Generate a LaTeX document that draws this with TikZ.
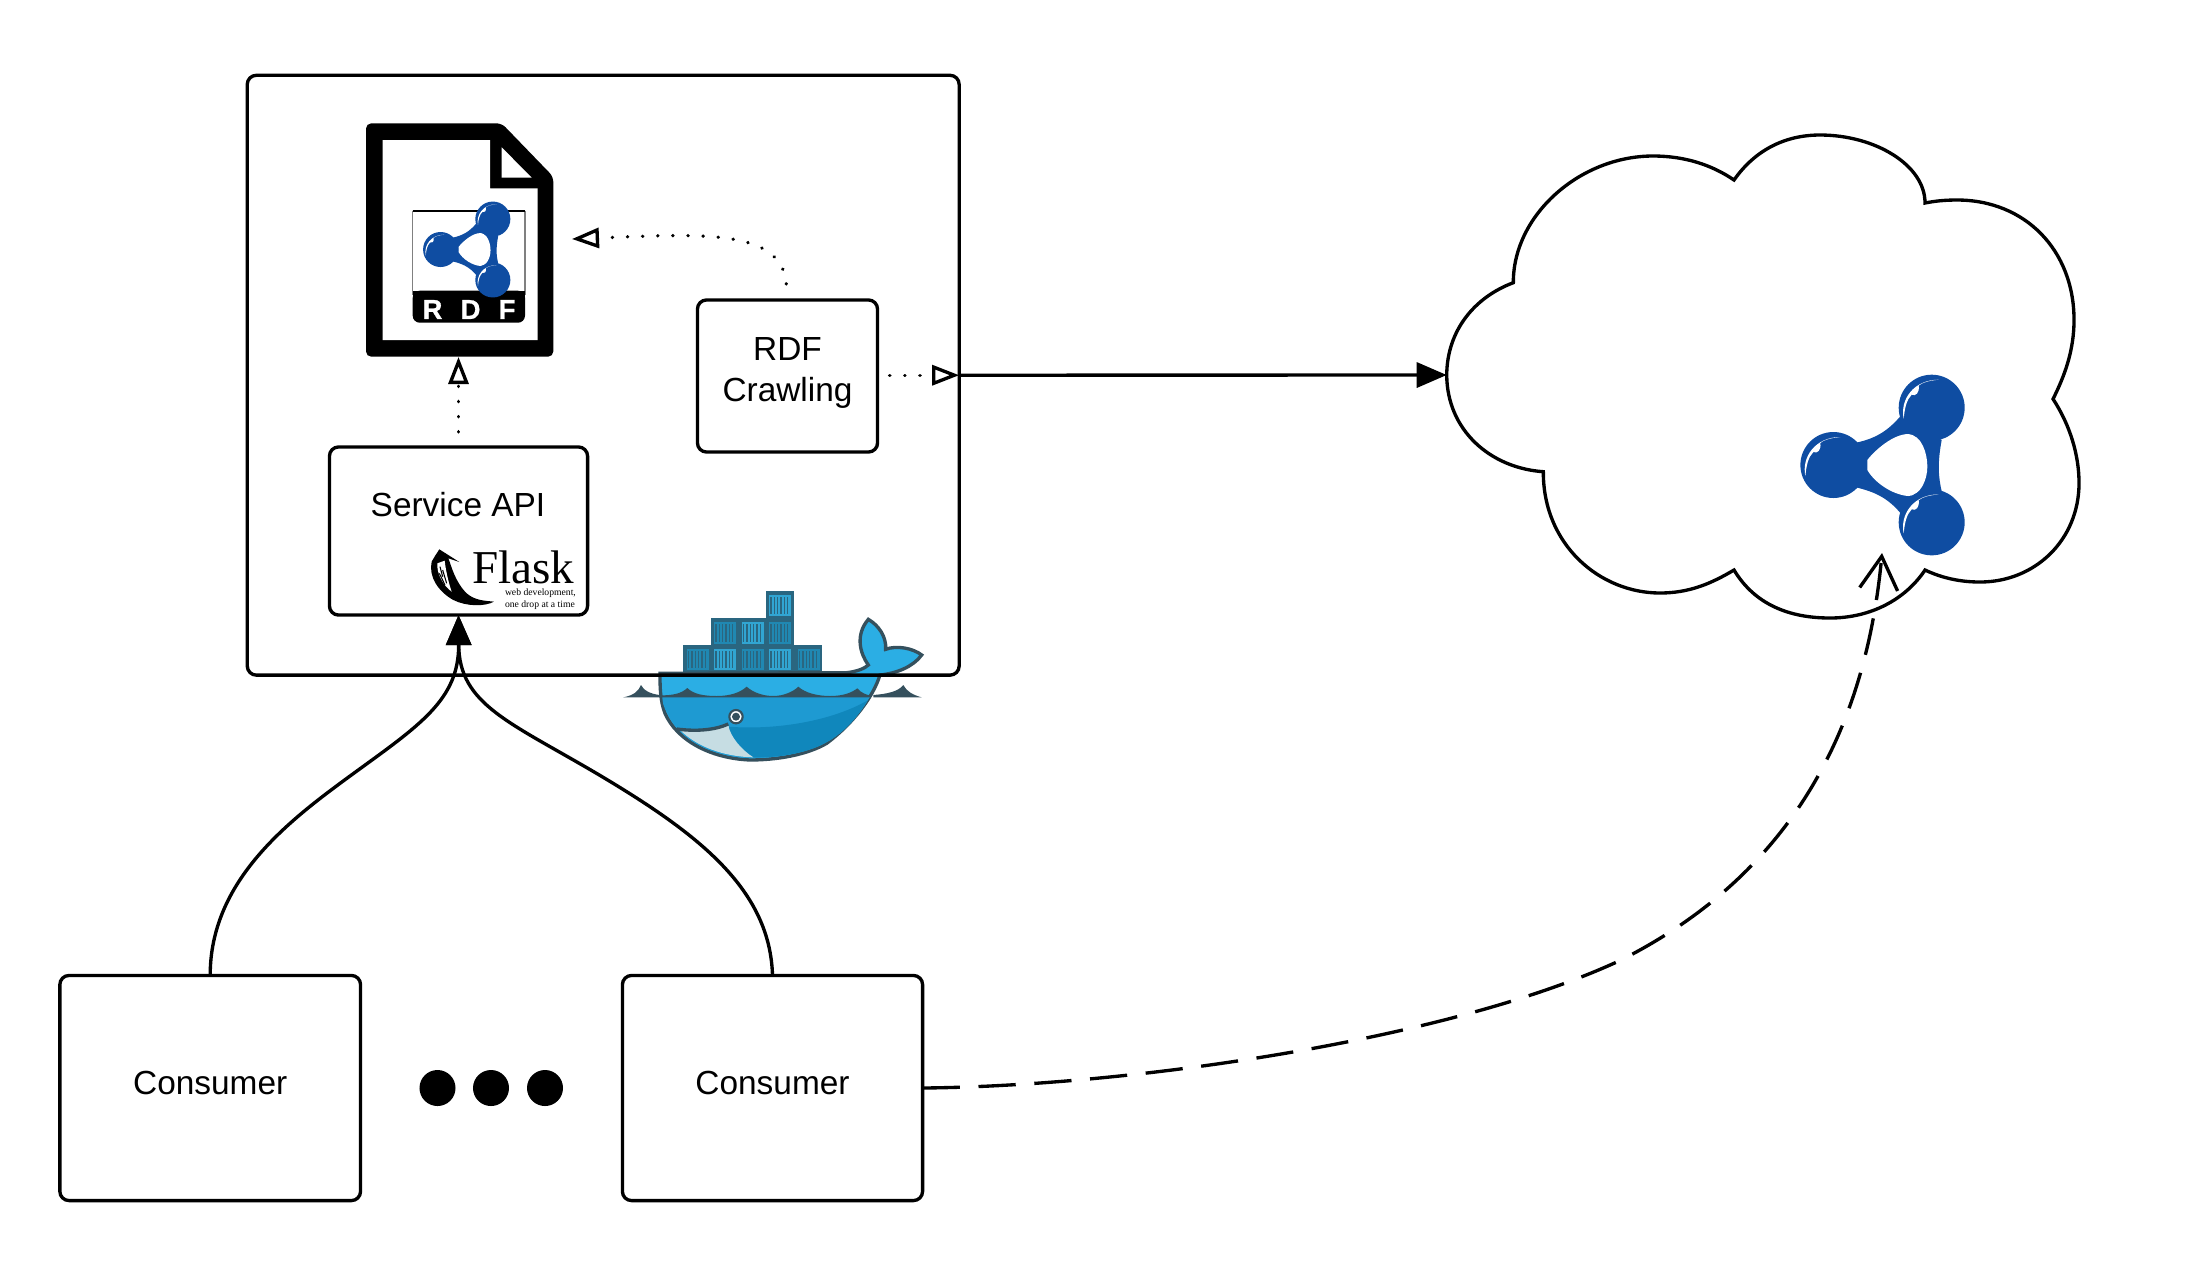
\documentclass[tikz,border=0pt]{standalone}
\usepackage{fontspec}
\setmainfont{Liberation Sans}
\newfontfamily\flaskfont{Liberation Serif}
\usetikzlibrary{arrows.meta}

\definecolor{rdfblue}{HTML}{0F4DA2}
\definecolor{dockdark}{HTML}{35505D}
\definecolor{docktop}{HTML}{2BAEE4}
\definecolor{dockmid}{HTML}{1E9AD2}
\definecolor{docklow}{HTML}{1087BC}
\definecolor{dockbelly}{HTML}{C6DDE3}
\definecolor{crateline}{HTML}{2A6680}
\definecolor{crateon}{HTML}{31A5D2}
\definecolor{crateoff}{HTML}{2088B2}

% one ball of the molecule, with its highlight
\newcommand{\molball}[2]{
\fill [rdfblue] (#1,#2) circle (99);
\fill [white, shift={(#1,#2)}] (-84,33) .. controls (-96,-24) and (-54,-84) .. (21,-84)
  .. controls (-9,-81) and (-30,-75) .. (-39,-66) .. controls (-36,-45) and (-48,-33) .. (-60,-39)
  .. controls (-75,-24) and (-81,0) .. (-84,33) -- cycle;
}

% the molecule, drawn around its centre
\newcommand{\rdfmol}[3]{
\begin{scope}[shift={(#1,#2)}, scale=#3, shift={(-330,-315)}]
\fill [rdfblue] (228,248) .. controls (290,235) and (325,210) .. (360,170) -- (485,240)
  .. controls (472,310) and (475,350) .. (485,394) -- (362,460)
  .. controls (320,410) and (280,395) .. (228,382) -- cycle;
\fill [white] (262,300) .. controls (285,270) and (340,222) .. (385,222)
  .. controls (425,225) and (442,280) .. (442,320)
  .. controls (442,360) and (420,408) .. (385,408)
  .. controls (340,405) and (285,370) .. (262,330) -- cycle;
\molball{160}{315}
\molball{455}{143}
\molball{455}{487}
\end{scope}
}

% one container on the whale
\newcommand{\crate}[3]{
\fill [crateline] (#1,#2) rectangle ++(84,84);
\fill [#3] (#1+10,#2+12) rectangle ++(66,64);
\foreach \sx in {16,26,...,70} {
  \draw [crateline, line width=0.35pt] (#1+\sx,#2+18) -- ++(0,52);
}
}

\begin{document}
\begin{tikzpicture}[x=0.01cm, y=-0.01cm, line width=0.95pt]
\tikzset{
  inner sep=0pt, outer sep=0pt,
  box/.style={draw, rounded corners=2.6pt},
  boxtext/.style={font=\fontsize{9.5}{11.4}\selectfont, align=center},
  dotline/.style={dash pattern=on 0.1pt off 4.2pt, line cap=round},
  opentip/.style={-{Triangle[open, length=0.27cm, width=0.2cm]}},
  solidtip/.style={-{Triangle[length=0.3cm, width=0.25cm]}},
  barbtip/.style={-{Straight Barb[length=0.33cm, width=0.38cm]}},
}
\useasboundingbox (0,0) rectangle (2192,1275);

%whale
\begin{scope}[shift={(620,580)}, scale=0.3333]
\crate{190}{195}{crateoff}
\crate{272}{195}{crateon}
\crate{355}{195}{crateoff}
\crate{437}{195}{crateon}
\crate{523}{195}{crateoff}
\crate{272}{115}{crateoff}
\crate{355}{115}{crateon}
\crate{437}{115}{crateoff}
\crate{437}{33}{crateon}

\fill [dockdark] (10,352) .. controls (40,346) and (55,335) .. (63,315)
  .. controls (70,330) and (90,342) .. (120,345) -- (120,352) -- cycle;
\fill [dockdark] (760,345) .. controls (800,342) and (835,335) .. (850,315)
  .. controls (860,335) and (880,345) .. (905,352) -- (760,352) -- cycle;

\draw [dockdark, fill=docktop] (120,280) -- (680,278) .. controls (710,275) and (735,265) .. (745,255)
  .. controls (720,220) and (705,165) .. (745,118) .. controls (775,135) and (800,170) .. (797,208)
  .. controls (830,195) and (880,205) .. (905,225) .. controls (880,260) and (830,280) .. (780,285)
  .. controls (760,350) and (700,430) .. (620,490) .. controls (560,525) and (470,540) .. (390,540)
  .. controls (270,535) and (170,480) .. (135,400) .. controls (120,360) and (120,320) .. (120,280) -- cycle;

\fill [dockmid] (127,350) -- (750,350) .. controls (710,420) and (660,465) .. (617,488)
  .. controls (560,520) and (470,534) .. (390,534) .. controls (270,530) and (175,475) .. (141,398)
  .. controls (130,380) and (127,365) .. (127,350) -- cycle;
\fill [docklow] (742,362) .. controls (705,425) and (660,465) .. (617,488)
  .. controls (560,520) and (470,534) .. (400,532) .. controls (360,505) and (335,470) .. (325,440)
  .. controls (450,450) and (620,430) .. (742,362) -- cycle;
\fill [dockbelly] (180,450) .. controls (230,455) and (290,450) .. (325,435)
  .. controls (330,470) and (365,510) .. (400,532) .. controls (310,530) and (230,500) .. (180,450) -- cycle;
\draw [dockdark] (170,447) .. controls (230,455) and (285,450) .. (325,432);

\fill [dockdark] (125,352) -- (125,346) .. controls (160,346) and (185,340) .. (202,324)
  .. controls (220,342) and (250,348) .. (290,348) .. controls (330,348) and (360,338) .. (380,320)
  .. controls (400,338) and (430,348) .. (460,348) .. controls (490,348) and (520,335) .. (535,320)
  .. controls (555,338) and (590,348) .. (630,348) .. controls (670,348) and (695,338) .. (712,325)
  .. controls (725,340) and (740,345) .. (755,347) -- (750,352) -- cycle;

\draw [dockdark, fill=white, line width=0.6pt] (348,410) circle (20);
\fill [dockdark] (348,410) circle (12);
\end{scope}

%main boxes
\node [box, minimum width=7.115cm, minimum height=5.995cm] (outer) at (603.2,375.2) {};
\node [box, minimum width=2.58cm, minimum height=1.68cm] (api) at (458.5,531) {};
\node [box, minimum width=1.8cm, minimum height=1.52cm] (crawl) at (787.5,376) {};
\node [box, boxtext, text depth=3.1pt, minimum width=3.005cm, minimum height=2.25cm] (consumera) at (210.2,1088) {Consumer};
\node [box, boxtext, text depth=3.1pt, minimum width=3cm, minimum height=2.25cm] (consumerb) at (772.5,1088) {Consumer};

\node [boxtext] (apitext) at (458,505) {Service API};
\node [boxtext] (crawltext) at (787.5,373) {RDF\\Crawling};

\node [fill, circle, minimum size=0.36cm] (dota) at (437.5,1088) {};
\node [fill, circle, minimum size=0.36cm] (dotb) at (491,1088) {};
\node [fill, circle, minimum size=0.36cm] (dotc) at (545,1088) {};

%rdf file
\fill [rounded corners=1.5pt] (366,123.3) -- (501.7,123.3) -- (553.3,176.7) -- (553.3,356.7) -- (366,356.7) -- cycle;
\fill [white] (382.7,140) -- (490,140) -- (490,188.3) -- (537.7,188.3) -- (537.7,340) -- (382.7,340) -- cycle;
\fill [white] (501.7,147.3) -- (531.7,177.7) -- (501.7,177.7) -- cycle;
\draw [gray, line width=0.3pt] (412.7,210.7) -- (412.7,295) (525,210.7) -- (525,295);
\draw [line width=0.5pt] (412.7,211) -- (525,211);
\fill [rounded corners=2pt] (412.7,290.7) -- (525,290.7) -- (525,322.7) -- (412.7,322.7) -- cycle;
\fill (412.7,290.7) rectangle (525,305);
\rdfmol{470.7}{249.5}{0.177}
\node [white, font=\fontsize{7.8}{8}\selectfont\bfseries\addfontfeature{FakeBold=1}] (rdftext) at (469,309.5) {R \hspace{0.3mm} D \hspace{0.3mm} F};

%flask logo
\begin{scope}[shift={(320,430)}, scale=0.3333]
\fill (345,378) -- (358,358) -- (418,396) -- (385,385) .. controls (395,410) and (405,455) .. (440,490)
  .. controls (465,512) and (495,512) .. (522,515) .. controls (495,530) and (440,530) .. (400,510)
  .. controls (355,485) and (325,440) .. (335,395) -- cycle;
\fill [white] (352,400) .. controls (350,430) and (368,465) .. (395,485)
  .. controls (385,455) and (378,425) .. (374,392) -- cycle;
\draw [line width=0.3pt] (360,410) -- (368,440) (368,420) -- (380,460) (358,430) -- (375,465);
\end{scope}
\node [anchor=base west, font=\flaskfont\fontsize{13.4}{14}\selectfont] (flasktext) at (472,583) {Flask};
\node [anchor=west, align=left, font=\flaskfont\fontsize{2.75}{2.45}\selectfont] (flasksub) at (505,599.5) {web development,\\one drop at a time};

%cloud
\draw (1446.7,375) .. controls (1447,330) and (1475,297) .. (1513.3,282.7)
  .. controls (1513,215) and (1580,156) .. (1653,156) .. controls (1685,156) and (1712,165) .. (1734,180)
  .. controls (1755,150) and (1785,135) .. (1820,135) .. controls (1875,135) and (1925,165) .. (1925,203)
  .. controls (1935,201) and (1945,200) .. (1957,200) .. controls (2025,200) and (2074,250) .. (2074,320)
  .. controls (2074,350) and (2065,375) .. (2053,399) .. controls (2070,425) and (2079,455) .. (2079,483)
  .. controls (2079,540) and (2035,582) .. (1980,582) .. controls (1960,582) and (1942,578) .. (1925,570)
  .. controls (1905,600) and (1870,618) .. (1830,618) .. controls (1790,618) and (1755,605) .. (1734,570)
  .. controls (1712,583) and (1690,593) .. (1660,593) .. controls (1600,593) and (1543,545) .. (1543.3,471.7)
  .. controls (1490,468) and (1447,430) .. (1446.7,375) -- cycle;
\rdfmol{1890}{465}{0.3333}

\coordinate (filebottom) at (458.5,357);
\coordinate (fileright) at (572,239);
\coordinate (cloudleft) at (1446.7,375);
\coordinate (cloudin) at (1882,553);

%connectors
\draw [dotline, opentip, shorten <=0.15cm] (api.north) -- (filebottom);
\draw [dotline, opentip, shorten <=0.16cm] (crawl.north) .. controls (782,228) and (700,234) .. (fileright);
\draw [dotline, opentip, shorten <=0.12cm] (crawl.east |- outer.east) -- (outer.east);
\draw [solidtip] (outer.east) -- (cloudleft);
\draw [solidtip] (consumera.north) .. controls (210,880) and (290,820) .. (350,776)
  .. controls (420,725) and (459,700) .. (api.south);
\draw [solidtip] (consumerb.north) .. controls (770,890) and (700,835) .. (601,776)
  .. controls (510,722) and (459,705) .. (api.south);
\draw [barbtip, dash pattern=on 10.6pt off 5.3pt] (consumerb.east) .. controls (1130,1086) and (1450,1040) .. (1621,960)
  .. controls (1795,872) and (1866,725) .. (cloudin);

\end{tikzpicture}
\end{document}
